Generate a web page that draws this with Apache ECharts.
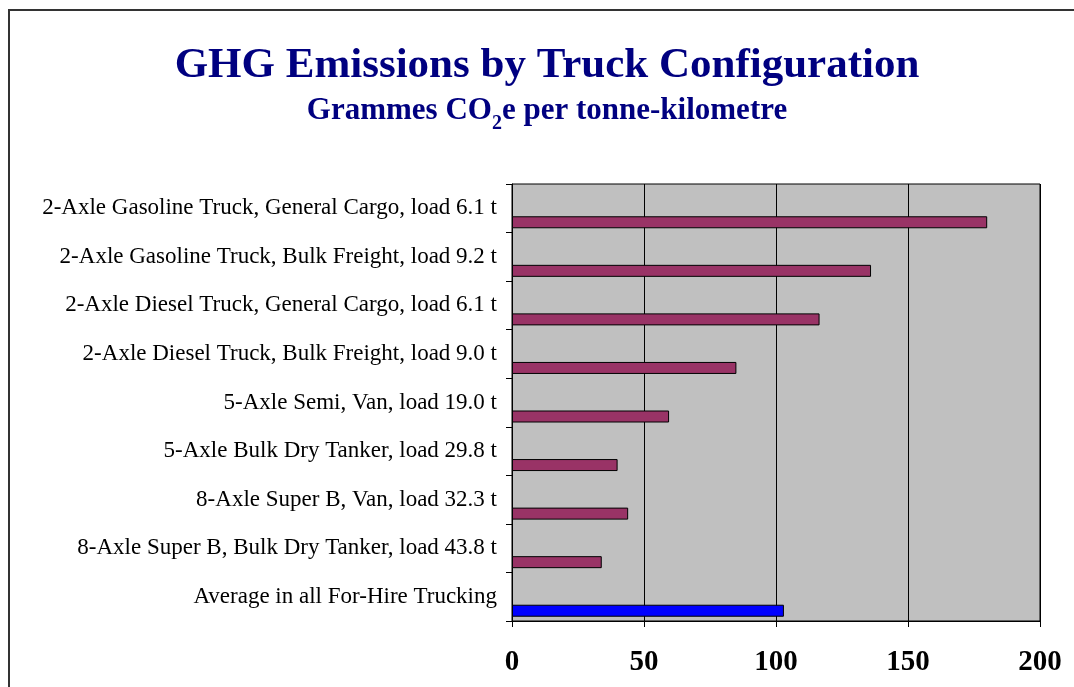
<!DOCTYPE html>
<html>
<head>
<meta charset="utf-8">
<script src="https://cdn.jsdelivr.net/npm/echarts@6/dist/echarts.min.js"></script>
<style>html,body{margin:0;padding:0;background:#fff;}#c{width:1074px;height:687px;}</style>
</head>
<body>
<div id="c"></div>
<script>
const categories = [
  "2-Axle Gasoline Truck, General Cargo, load 6.1 t",
  "2-Axle Gasoline Truck, Bulk Freight, load 9.2 t",
  "2-Axle Diesel Truck, General Cargo, load 6.1 t",
  "2-Axle Diesel Truck, Bulk Freight, load 9.0 t",
  "5-Axle Semi, Van, load 19.0 t",
  "5-Axle Bulk Dry Tanker, load 29.8 t",
  "8-Axle Super B, Van, load 32.3 t",
  "8-Axle Super B, Bulk Dry Tanker, load 43.8 t",
  "Average in all For-Hire Trucking"
];
const emissions = [180, 136, 116.5, 85, 59.5, 40, 44, 34, 103];
const averageIndex = 8;
const xTicks = [0, 50, 100, 150, 200];

const FONT = '"Liberation Serif", "Times New Roman", serif';
const chart = echarts.init(document.getElementById('c'));
chart.setOption({
  animation: false,
  backgroundColor: '#fff',
  graphic: [{
    type: 'rect', silent: true, z: -10,
    shape: {x: 9, y: 10, width: 1100, height: 700},
    style: {fill: 'none', stroke: '#333', lineWidth: 2}
  }],
  title: [{
    text: 'GHG Emissions by Truck Configuration',
    left: 547, top: 44, padding: 0, textAlign: 'center',
    textStyle: {fontFamily: FONT, fontWeight: 'bold', fontSize: 43, color: '#000080'}
  }, {
    text: '{a|Grammes CO}{s|2}{a|e per tonne-kilometre}',
    left: 547, top: 88, padding: 0, textAlign: 'center',
    textStyle: {
      rich: {
        a: {fontFamily: FONT, fontWeight: 'bold', fontSize: 31, color: '#000080', lineHeight: 38, verticalAlign: 'bottom'},
        s: {fontFamily: FONT, fontWeight: 'bold', fontSize: 20, color: '#000080', lineHeight: 38, verticalAlign: 'bottom', padding: [0, 0, -8, 0]}
      }
    }
  }],
  grid: [
    {left: 512, right: 34, top: 184, bottom: 66, show: true, backgroundColor: '#C0C0C0', borderColor: '#000', borderWidth: 1},
    {left: 512, right: 34, top: 198, bottom: 52}
  ],
  xAxis: [{
    gridIndex: 0, type: 'value', min: 0, max: 200, interval: 50,
    axisLine: {show: true, lineStyle: {color: '#000', width: 1}},
    axisTick: {show: true, length: 6, lineStyle: {color: '#000'}},
    splitLine: {show: true, lineStyle: {color: '#000', width: 1}},
    axisLabel: {
      margin: 27, fontFamily: FONT, fontWeight: 'bold', fontSize: 29, color: '#000',
      formatter: v => xTicks.includes(v) ? String(v) : ''
    }
  }, {
    gridIndex: 1, type: 'value', min: 0, max: 200, show: false
  }],
  yAxis: [{
    gridIndex: 0, type: 'category', data: categories, inverse: true,
    axisLine: {show: true, lineStyle: {color: '#000'}},
    axisTick: {show: true, length: 6, lineStyle: {color: '#000'}},
    axisLabel: {margin: 15, fontFamily: FONT, fontSize: 23, color: '#000'},
    splitLine: {show: false}
  }, {
    gridIndex: 1, type: 'category', data: categories, inverse: true, show: false
  }],
  series: [{
    type: 'bar', xAxisIndex: 1, yAxisIndex: 1, barWidth: 12,
    data: emissions.map((v, i) => ({
      value: v,
      itemStyle: {color: i === averageIndex ? '#0000FF' : '#993366', borderColor: '#000', borderWidth: 1}
    }))
  }]
});
</script>
</body>
</html>
